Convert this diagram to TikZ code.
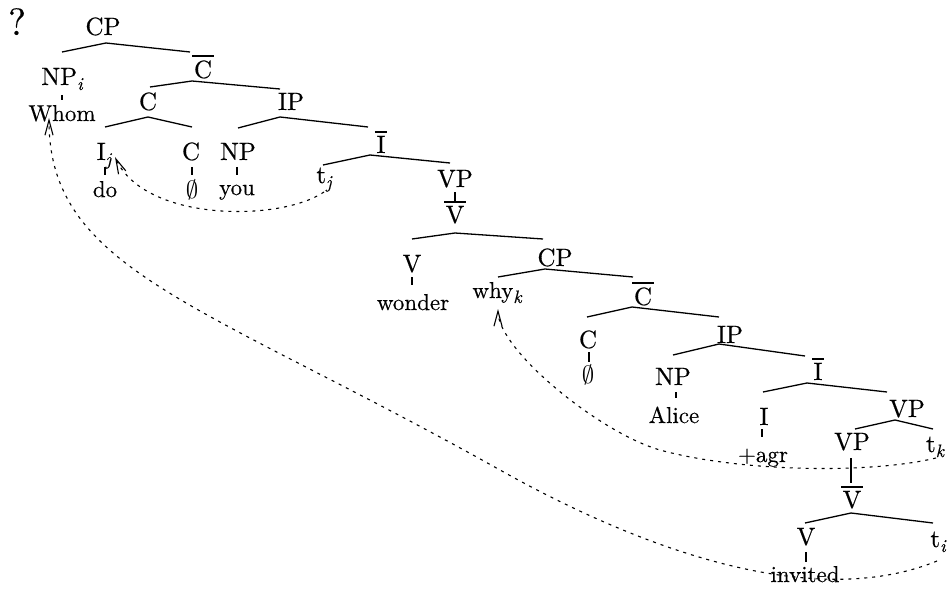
\documentclass[tikz,border=0pt]{standalone}
\usepackage{fontspec}
\setmainfont{lmroman10-regular.otf}[FakeBold=0.4,
  ItalicFont=lmroman10-italic.otf, ItalicFeatures={FakeBold=0.4}]
\usetikzlibrary{arrows.meta}

% category with a bar over it (X-bar levels)
\newcommand\barcat[1]{\vbox{\offinterlineskip\setbox0=\hbox{#1}%
  \hbox to \wd0{\hss\vrule width \dimexpr\wd0+3pt\relax height 2.2pt\hss}%
  \kern 3pt\box0}}
% italic index subscript
\newcommand\idx[1]{\raisebox{-5pt}{\fontsize{18}{20}\selectfont\itshape #1}}

\tikzset{
  lab/.style={font=\fontsize{25}{30}\selectfont, inner sep=0pt, anchor=base},
  word/.style={font=\fontsize{23}{27}\selectfont, inner sep=0pt, anchor=base},
  branch/.style={line width=1.3pt},
  trace/.style={line width=1.1pt, dash pattern=on 3pt off 5pt,
    -{Straight Barb[length=15pt,width=8pt]}}
}

\begin{document}
\begin{tikzpicture}[x=1pt,y=-1pt]
\useasboundingbox (0,0) rectangle (949,596);

% judgement mark
\node[lab, font=\fontsize{38}{44}\selectfont] (q) at (17,35) {?};

% matrix clause
\node[lab] (cp1) at (103,35) {CP};
\node[lab] (np1) at (62,85) {NP\idx{i}};
\node[word] (whom) at (62,121) {Whom};
\node[lab] (cbar1) at (203,78) {\barcat{C}};
\node[lab] (c1) at (148,110) {C};
\node[lab] (ip1) at (291,110) {IP};
\node[lab] (ij) at (104,160) {I\idx{j}};
\node[word] (do) at (105,197) {do};
\node[lab] (c2) at (191,160) {C};
\node[lab] (emp1) at (192,198) {$\emptyset$};
\node[lab] (np2) at (238,160) {NP};
\node[word] (you) at (237,195) {you};
\node[lab] (ibar1) at (381,153) {\barcat{I}};
\node[lab] (tj) at (324,183) {t\idx{j}};
\node[lab] (vp1) at (455,187) {VP};
\node[lab] (vbar1) at (455,223) {\barcat{V}};
\node[lab] (v1) at (412,272) {V};
\node[word] (wonder) at (413,310) {wonder};

% embedded clause
\node[lab] (cp2) at (555,266) {CP};
\node[word] (why) at (497,298) {why\idx{k}};
\node[lab] (cbar2) at (643,305) {\barcat{C}};
\node[lab] (c3) at (588,348) {C};
\node[lab] (emp2) at (588,383) {$\emptyset$};
\node[lab] (ip2) at (730,343) {IP};
\node[lab] (np3) at (673,385) {NP};
\node[word] (alice) at (674,423) {Alice};
\node[lab] (ibar2) at (818,380) {\barcat{I}};
\node[lab] (i2) at (764,425) {I};
\node[word] (agr) at (763,462) {+agr};
\node[lab] (vp2) at (907,417) {VP};
\node[lab] (vp3) at (852,450) {VP};
\node[lab] (tk) at (935,452) {t\idx{k}};
\node[lab] (vbar2) at (852,508) {\barcat{V}};
\node[lab] (v2) at (806,545) {V};
\node[lab] (ti) at (938,547) {t\idx{i}};
\node[word] (invited) at (805,582) {invited};

% branches
\draw[branch] ([shift={(0,-33)}]np1.base) -- ([shift={(3,8)}]cp1.base) -- ([shift={(-13,-26)}]cbar1.base);
\draw[branch] ([shift={(2,-23)}]c1.base) -- ([shift={(-11,3)}]cbar1.base) -- ([shift={(-11,-21)}]ip1.base);
\draw[branch] ([shift={(1,-33)}]ij.base) -- ([shift={(0,7)}]c1.base) -- ([shift={(1,-33)}]c2.base);
\draw[branch] ([shift={(0,-32)}]np2.base) -- ([shift={(-11,7)}]ip1.base) -- ([shift={(-13,-26)}]ibar1.base);
\draw[branch] ([shift={(-1,-18)}]tj.base) -- ([shift={(-11,2)}]ibar1.base) -- ([shift={(-5,-24)}]vp1.base);
\draw[branch] ([shift={(0,5)}]vp1.base) -- ([shift={(0,-21)}]vbar1.base);
\draw[branch] ([shift={(0,-33)}]v1.base) -- ([shift={(0,10)}]vbar1.base) -- ([shift={(-12,-27)}]cp2.base);
\draw[branch] ([shift={(0,5)}]v1.base) -- ([shift={(-1,-25)}]wonder.base);
\draw[branch] ([shift={(1,-21)}]why.base) -- ([shift={(-10,3)}]cp2.base) -- ([shift={(-10,-28)}]cbar2.base);
\draw[branch] ([shift={(-1,-31)}]c3.base) -- ([shift={(-11,2)}]cbar2.base) -- ([shift={(-11,-26)}]ip2.base);
\draw[branch] ([shift={(1,4)}]c3.base) -- ([shift={(1,-21)}]emp2.base);
\draw[branch] ([shift={(0,-30)}]np3.base) -- ([shift={(-11,1)}]ip2.base) -- ([shift={(-13,-24)}]ibar2.base);
\draw[branch] ([shift={(3,7)}]np3.base) -- ([shift={(2,-25)}]alice.base);
\draw[branch] ([shift={(-1,-33)}]i2.base) -- ([shift={(-11,3)}]ibar2.base) -- ([shift={(-20,-25)}]vp2.base);
\draw[branch] ([shift={(-2,4)}]i2.base) -- ([shift={(-1,-25)}]agr.base);
\draw[branch] ([shift={(3,-21)}]vp3.base) -- ([shift={(-12,3)}]vp2.base) -- ([shift={(-2,-23)}]tk.base);
\draw[branch] ([shift={(-1,8)}]vp3.base) -- ([shift={(-1,-25)}]vbar2.base);
\draw[branch] ([shift={(-1,-22)}]v2.base) -- ([shift={(-1,5)}]vbar2.base) -- ([shift={(-5,-24)}]ti.base);
\draw[branch] ([shift={(0,7)}]v2.base) -- ([shift={(1,-20)}]invited.base);
\draw[branch] ([shift={(0,10)}]np1.base) -- ([shift={(0,-21)}]whom.base);
\draw[branch] ([shift={(1,7)}]ij.base) -- ([shift={(0,-22)}]do.base);
\draw[branch] ([shift={(1,7)}]c2.base) -- ([shift={(0,-23)}]emp1.base);
\draw[branch] ([shift={(-1,7)}]np2.base) -- ([shift={(0,-20)}]you.base);

% movement traces
\draw[trace] ([shift={(0,9)}]tj.base) .. controls (280,222) and (145,222) .. ([shift={(11,-3)}]ij.base);
\draw[trace] ([shift={(1,6)}]tk.base) .. controls (870,474) and (740,472) .. (660,450)
  .. controls (600,433) and (498,350) .. ([shift={(1,11)}]why.base);
\draw[trace] ([shift={(-1,14)}]ti.base) .. controls (817,610) and (650,554) .. (500,470)
  .. controls (200,302) and (49,270) .. ([shift={(-13,-3)}]whom.base);
\end{tikzpicture}
\end{document}
